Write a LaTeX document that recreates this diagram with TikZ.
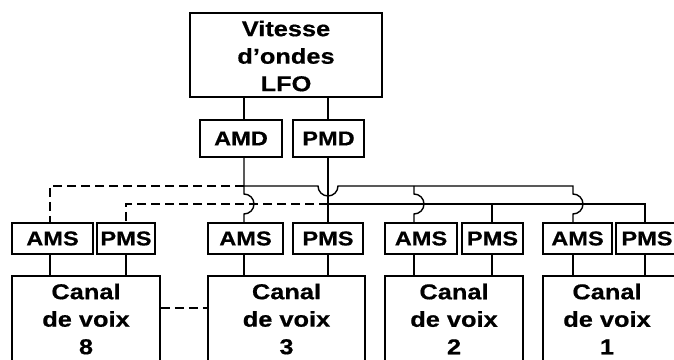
\documentclass[tikz,border=0pt]{standalone}
\usepackage{fontspec}
\setmainfont{Liberation Sans}[FakeStretch=1.18, BoldFeatures={FakeBold=0.6}]
\begin{document}
\begin{tikzpicture}[x=1pt,y=1pt,
  box/.style={draw, line width=1.8pt, inner sep=0pt, font=\bfseries\fontsize{20}{24}\selectfont},
  big/.style={font=\bfseries\fontsize{21.5}{27.5}\selectfont, align=center, inner sep=0pt},
  wire/.style={line width=1.4pt},
  dwire/.style={line width=1.5pt, dash pattern=on 9pt off 5pt}]
\useasboundingbox (0,0) rectangle (674,359);
\clip (0,0) rectangle (674,359);
% top box
\node[box, minimum width=192pt, minimum height=84pt] (lfo) at (286,304) {};
\node[big] (lfot) at (286,303) {Vitesse\\d’ondes\\LFO};
\node[box, minimum width=82pt, minimum height=37pt] (amd) at (241,220.5) {AMD};
\node[box, minimum width=71pt, minimum height=37pt] (pmd) at (328.5,220.5) {PMD};
% AMS/PMS row
\node[box, minimum width=81pt, minimum height=31pt] (ams8) at (52.5,120.5) {AMS};
\node[box, minimum width=58pt, minimum height=31pt] (pms8) at (126,120.5) {PMS};
\node[box, minimum width=75pt, minimum height=31pt] (ams3) at (245.5,120.5) {AMS};
\node[box, minimum width=70pt, minimum height=31pt] (pms3) at (328,120.5) {PMS};
\node[box, minimum width=72pt, minimum height=31pt] (ams2) at (421,120.5) {AMS};
\node[box, minimum width=61pt, minimum height=31pt] (pms2) at (492.5,120.5) {PMS};
\node[box, minimum width=69pt, minimum height=31pt] (ams1) at (577.5,120.5) {AMS};
\node[box, minimum width=62pt, minimum height=31pt] (pms1) at (647,120.5) {PMS};
% canal boxes
\node[box, minimum width=148pt, minimum height=103pt] (canal8) at (86,31.5) {};
\node[box, minimum width=157pt, minimum height=103pt] (canal3) at (286.5,31.5) {};
\node[box, minimum width=138pt, minimum height=103pt] (canal2) at (454,31.5) {};
\node[box, minimum width=147pt, minimum height=103pt] (canal1) at (616.5,31.5) {};
\node[big] (c8t) at (86,40) {Canal\\de voix\\8};
\node[big] (c3t) at (286.5,40) {Canal\\de voix\\3};
\node[big] (c2t) at (454,40) {Canal\\de voix\\2};
\node[big] (c1t) at (607,40) {Canal\\de voix\\1};
% junction coordinates
\coordinate (ja) at (244,173);
\coordinate (jp) at (328,155);
\coordinate (a8) at (50,173);
\coordinate (p8) at (126,155);
\coordinate (a2) at (414,173);
\coordinate (p2) at (492,155);
\coordinate (a1) at (573,173);
\coordinate (p1) at (645,155);
\coordinate (cy) at (0,51);
% LFO to AMD / PMD
\draw[wire] (ja |- lfo.south) -- (ja |- amd.north);
\draw[wire] (jp |- lfo.south) -- (jp |- pmd.north);
% AMD bus
\draw[wire] (ja |- amd.south) -- (ja) -- ++(0,-8) arc(90:-90:10) -- (ja |- ams3.north);
\draw[dwire] (ja) -- (a8) -- (a8 |- ams8.north);
\draw[wire] (ja) -- (318,173) arc(180:360:10) -- (a1) -- ++(0,-8) arc(90:-90:10) -- (a1 |- ams1.north);
\draw[wire] (a2) -- ++(0,-8) arc(90:-90:10) -- (a2 |- ams2.north);
% PMD bus
\draw[wire] (jp |- pmd.south) -- (jp |- pms3.north);
\draw[dwire] (jp) -- (p8) -- (p8 |- pms8.north);
\draw[wire] (jp) -- (p1) -- (p1 |- pms1.north);
\draw[wire] (p2) -- (p2 |- pms2.north);
% AMS/PMS to canals
\draw[wire] (a8 |- ams8.south) -- (a8 |- canal8.north);
\draw[wire] (p8 |- pms8.south) -- (p8 |- canal8.north);
\draw[wire] (ja |- ams3.south) -- (ja |- canal3.north);
\draw[wire] (jp |- pms3.south) -- (jp |- canal3.north);
\draw[wire] (a2 |- ams2.south) -- (a2 |- canal2.north);
\draw[wire] (p2 |- pms2.south) -- (p2 |- canal2.north);
\draw[wire] (a1 |- ams1.south) -- (a1 |- canal1.north);
\draw[wire] (p1 |- pms1.south) -- (p1 |- canal1.north);
% canal 8 to canal 3
\draw[dwire] (canal8.east |- cy) -- (canal3.west |- cy);
\end{tikzpicture}
\end{document}
